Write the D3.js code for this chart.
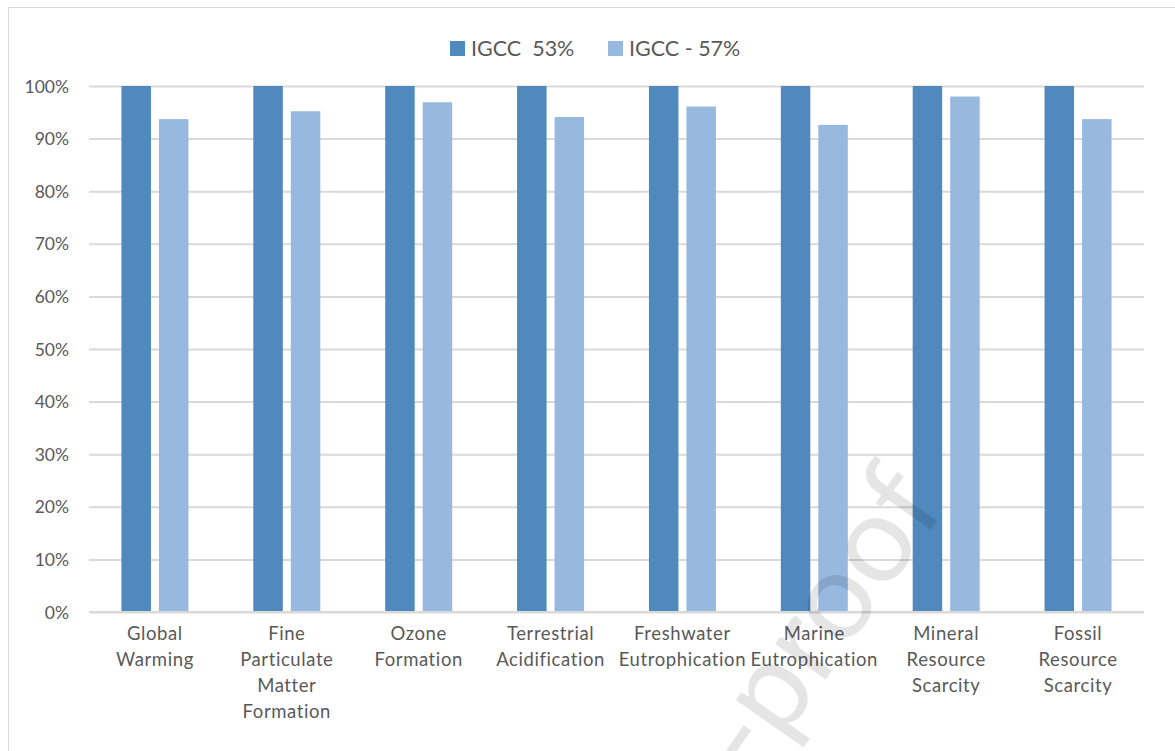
<!DOCTYPE html>
<html>
<head>
<meta charset="utf-8">
<script src="https://cdn.jsdelivr.net/npm/d3@7/dist/d3.min.js"></script>
<style>
  html, body { margin: 0; padding: 0; background: #fff; }
  svg { display: block; }
  text { font-family: Lato, "Open Sans", sans-serif; }
</style>
</head>
<body>
<svg id="chart" width="1175" height="751"></svg>
<script>
const categories = [
  ["Global", "Warming"],
  ["Fine", "Particulate", "Matter", "Formation"],
  ["Ozone", "Formation"],
  ["Terrestrial", "Acidification"],
  ["Freshwater", "Eutrophication"],
  ["Marine", "Eutrophication"],
  ["Mineral", "Resource", "Scarcity"],
  ["Fossil", "Resource", "Scarcity"]
];
const seriesNames = ["IGCC  53%", "IGCC - 57%"];
const igcc53 = [100, 100, 100, 100, 100, 100, 100, 100];
const igcc57 = [93.7, 95.2, 96.9, 94.1, 96.1, 92.6, 98.0, 93.7];
const yTicks = [0, 10, 20, 30, 40, 50, 60, 70, 80, 90, 100];
const colors = ["#4f89bd", "#97b8df"];

(function () {
const svg = d3.select("#chart");
const W = 1175, H = 751;
const mLeft = 89, mRight = 1144, mTop = 86, mBottom = 612;

// frame
svg.append("line").attr("x1", 8).attr("x2", W).attr("y1", 7.5).attr("y2", 7.5)
  .attr("stroke", "#d9d9d9").attr("stroke-width", 1);
svg.append("line").attr("x1", 8.5).attr("x2", 8.5).attr("y1", 7.5).attr("y2", H)
  .attr("stroke", "#d9d9d9").attr("stroke-width", 1);

const x = d3.scaleBand().domain(d3.range(categories.length)).range([mLeft, mRight]).paddingInner(0).paddingOuter(0);
const y = d3.scaleLinear().domain([0, 100]).range([mBottom, mTop]);

// gridlines
const yAxis = d3.axisLeft(y).tickValues(yTicks).tickFormat(d => d + "%").tickSize(-(mRight - mLeft)).tickPadding(20);
const gy = svg.append("g").attr("transform", `translate(${mLeft},0)`).call(yAxis);
gy.select(".domain").remove();
gy.selectAll(".tick line").attr("stroke", "#d9d9d9").attr("stroke-width", 2);
gy.selectAll(".tick text").attr("fill", "#595959").style("font-size", "17.5px").style("font-family", "Lato, sans-serif").attr("x", -20).attr("dy", "0.35em");

// bars
const barW = 29.5, gap = 8;
const groups = [igcc53, igcc57];
groups.forEach((vals, si) => {
  svg.append("g").selectAll("rect").data(vals).join("rect")
    .attr("x", (d, i) => x(i) + x.bandwidth() / 2 - gap / 2 - barW + si * (barW + gap))
    .attr("y", d => y(d))
    .attr("width", barW)
    .attr("height", d => y(0) - y(d))
    .attr("fill", colors[si]);
});

// x axis line
svg.append("line").attr("x1", mLeft).attr("x2", mRight).attr("y1", mBottom).attr("y2", mBottom)
  .attr("stroke", "#d9d9d9").attr("stroke-width", 2);

// category labels
const gx = svg.append("g");
categories.forEach((lines, i) => {
  const t = gx.append("text").attr("text-anchor", "middle").attr("fill", "#595959")
    .style("font-size", "18.5px").style("letter-spacing", "0.6px");
  lines.forEach((ln, j) => {
    t.append("tspan").attr("x", x(i) + x.bandwidth() / 2).attr("y", 640 + j * 26).text(ln);
  });
});

// legend
const legendX = [450, 608];
seriesNames.forEach((name, i) => {
  svg.append("rect").attr("x", legendX[i]).attr("y", 41).attr("width", 15).attr("height", 15).attr("fill", colors[i]);
  svg.append("text").attr("x", legendX[i] + 21).attr("y", 56).attr("fill", "#595959").style("font-size", "21.5px")
    .style("white-space", "pre").attr("xml:space", "preserve").text(name);
});

// watermark
svg.append("text").attr("transform", "translate(948,505) rotate(-55)")
  .attr("text-anchor", "end").attr("fill", "rgba(0,0,0,0.10)")
  .style("font-size", "122px").text("Journal Pre-proof");
})();
</script>
</body>
</html>
